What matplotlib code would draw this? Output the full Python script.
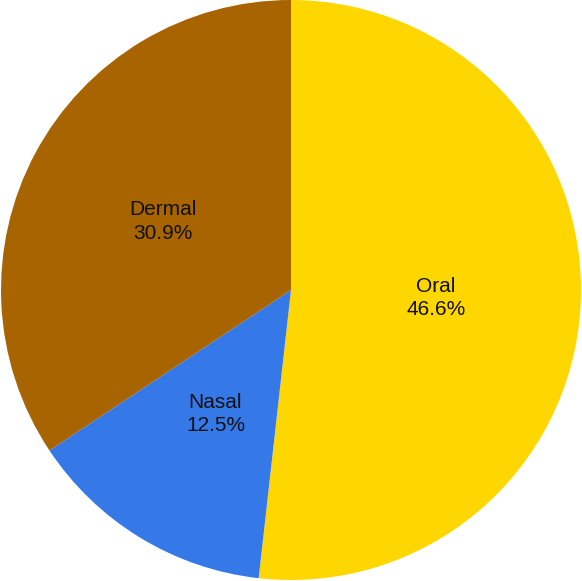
import matplotlib
matplotlib.use('Agg')
import matplotlib.pyplot as plt

routes = ['Oral', 'Nasal', 'Dermal']
shares = [46.6, 12.5, 30.9]
colors = ['#FFD700', '#3579E9', '#A86400']

plt.rcParams['font.family'] = ['Liberation Sans', 'DejaVu Sans']

fig = plt.figure(figsize=(5.82, 5.81), dpi=100)
ax = fig.add_axes([0, 0, 1, 1])

labels = [f'{r}\n{s:.1f}%' for r, s in zip(routes, shares)]
wedges, texts = ax.pie(shares, colors=colors, startangle=90, counterclock=False,
                       labels=labels, labeldistance=0.5, radius=1.0)
for t in texts:
    t.set_fontsize(15)
    t.set_color('#111111')
    t.set_ha('center')
    t.set_va('center')
    t.set_linespacing(1.3)

ax.set_xlim(-291 / 290, 291 / 290)
ax.set_ylim(-291 / 290, 290 / 290)
ax.set_aspect('auto')
ax.axis('off')

fig.savefig('out.png', dpi=100)
